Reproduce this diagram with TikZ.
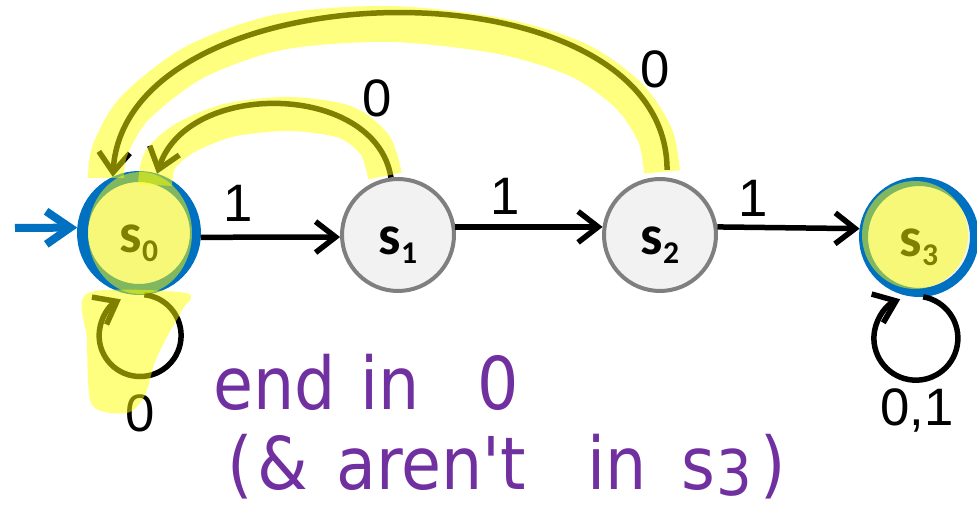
\documentclass[tikz,border=0pt]{standalone}
\usepackage{fontspec}
\setmainfont{Liberation Sans}
\newfontfamily\statefont{Carlito}
\newfontfamily\handfont{DejaVu Sans}
\usetikzlibrary{arrows.meta}
\definecolor{nodegray}{HTML}{7F7F7F}
\definecolor{nodefill}{HTML}{F2F2F2}
\definecolor{accblue}{HTML}{0070C0}
\definecolor{handpurple}{HTML}{7030A0}
\definecolor{hly}{HTML}{FFFF00}
\newcommand\stname[1]{\statefont\bfseries\fontsize{32}{32}\selectfont s\raisebox{-5pt}{\fontsize{18}{18}\selectfont #1}}
\newcommand\hwt[1]{\scalebox{1}[1.12]{#1}}
\begin{document}
\begin{tikzpicture}[x=0.02cm,y=0.02cm,
  state/.style={circle, draw=nodegray, fill=nodefill, line width=0.08cm, minimum size=2.24cm, inner sep=0pt, text height=22.7pt, text depth=0pt},
  accept/.style={state, draw=accblue, line width=0.22cm, minimum size=2.26cm},
  trans/.style={line width=0.11cm, -{Straight Barb[length=0.4cm,width=0.62cm]}},
  startarr/.style={draw=accblue, line width=0.16cm, -{Straight Barb[length=0.48cm,width=0.66cm]}},
  lbl/.style={font=\fontsize{30}{30}\selectfont, text depth=0pt, inner sep=0pt},
  hlstroke/.style={draw=hly, opacity=0.5, line width=0.72cm},
  hlfill/.style={fill=hly, opacity=0.5},
  hw/.style={font=\handfont\fontsize{37}{37}\selectfont, text=handpurple, anchor=base west, inner sep=0pt}]
\useasboundingbox (0,0) rectangle (977,507);

% states
\node[accept] (s0) at (139,274) {\stname{0}};
\node[state] (s1) at (398,272) {\stname{1}};
\node[state] (s2) at (660,272) {\stname{2}};
\node[accept, line width=0.18cm, minimum size=2.22cm] (s3) at (919,270) {\stname{3}};

% start arrow
\coordinate (init) at (15,279);
\draw[startarr] (init) -- (s0.175);

% transitions
\draw[trans] (s0.-4) -- (s1.182);
\draw[trans] (s1.8) -- (s2.172);
\draw[trans] (s2.8) -- (s3.172);
\draw[trans, shorten <=0.15cm] (s2.83) .. controls +(0,222) and +(13,212) .. (s0.115);
\draw[trans] (s1.97) .. controls +(-15,95) and +(30,95) .. (s0.73);
\draw[trans] (s0.-85) arc[start angle=84, end angle=-242, radius=0.82cm];
\draw[trans] (s3.-86) arc[start angle=80, end angle=-248, radius=0.84cm];

% labels
\node[lbl] (l01) at (238,304) {1};
\node[lbl] (l12) at (505,311) {1};
\node[lbl] (l23) at (753,309) {1};
\node[lbl] (l10) at (377,409) {0};
\node[lbl] (l20) at (655,438) {0};
\node[lbl] (l00) at (140,94) {0};
\node[lbl] (l33) at (917,100) {0,1};

% highlighter
\draw[hlstroke] plot[smooth] coordinates {(662,335) (655,372) (628,412) (578,447) (500,471) (390,483) (280,475) (195,445) (135,399) (110,357) (106,329)};
\draw[hlstroke, line width=0.68cm] plot[smooth] coordinates {(385,331) (375,362) (345,385) (290,393) (230,387) (185,369) (160,347) (155,322)};
\fill[hlfill] (140,274) ellipse [x radius=1.04cm, y radius=1.22cm];
\fill[hlfill] plot[smooth cycle] coordinates {(88,214) (186,214) (182,197) (168,172) (155,145) (145,112) (130,95) (105,95) (90,107) (87,167)};
\fill[hlfill] (915,272) ellipse [x radius=1.06cm, y radius=1.08cm];

% handwriting
\node[hw] (w1) at (213,97) {\hwt{end}};
\node[hw] (w2) at (360,97) {\hwt{in}};
\node[hw] (w3) at (477,97) {\hwt{0}};
\node[hw] (w4) at (227,17) {\hwt{(}};
\node[hw] (w5) at (257,17) {\hwt{\&}};
\node[hw] (w6) at (336,17) {\hwt{aren't}};
\node[hw] (w7) at (587,17) {\hwt{in}};
\node[hw] (w8) at (681,17) {\hwt{s\kern1pt\raisebox{-3pt}{\fontsize{32}{32}\selectfont 3}}};
\node[hw] (w10) at (760,17) {\hwt{)}};
\end{tikzpicture}
\end{document}
